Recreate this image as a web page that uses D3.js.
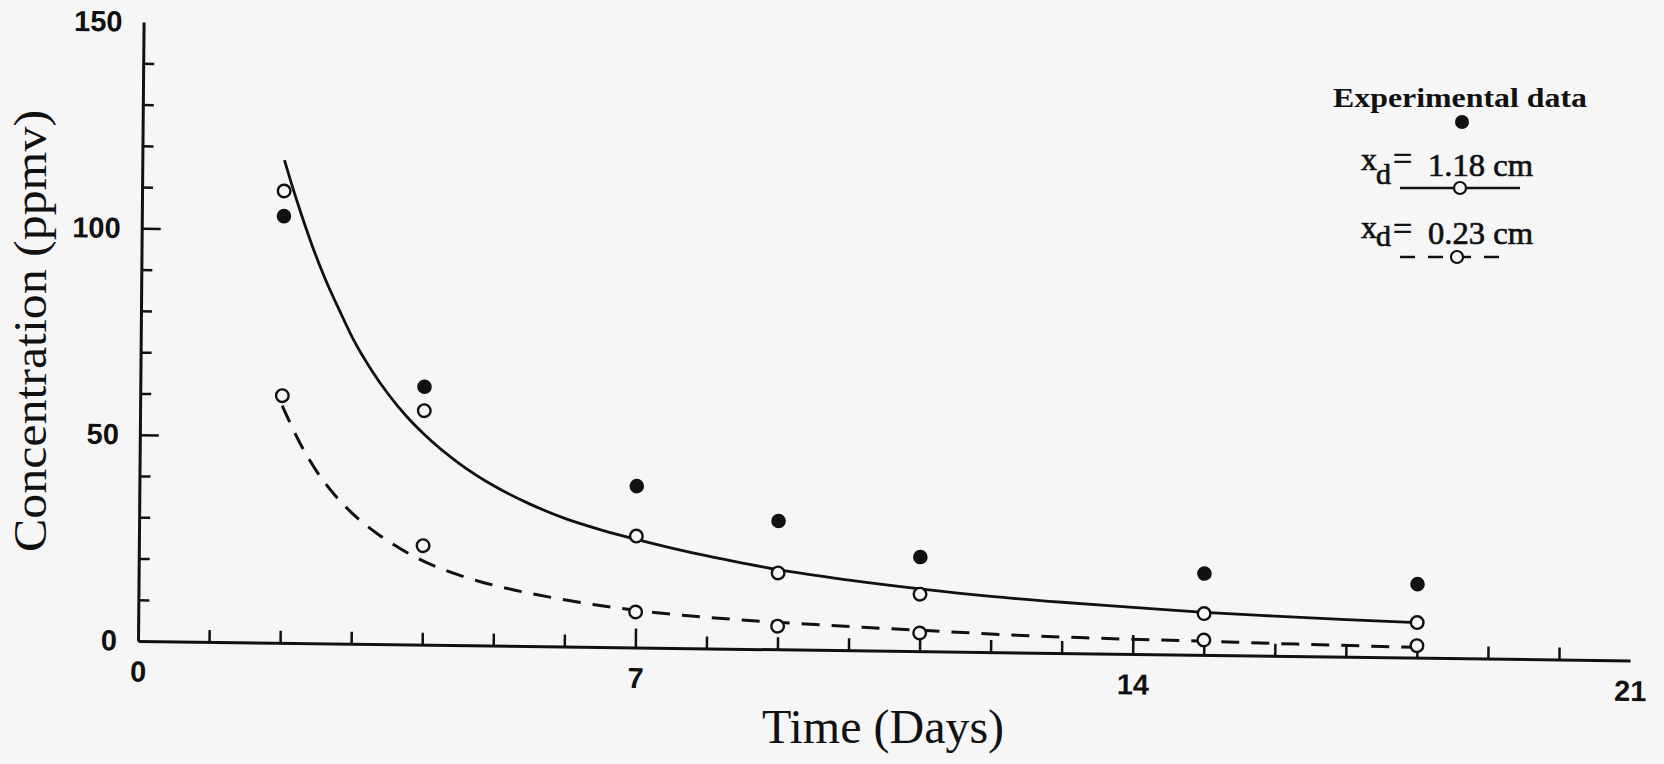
<!DOCTYPE html>
<html>
<head>
<meta charset="utf-8">
<script src="https://d3js.org/d3.v7.min.js"></script>
<style>
  html, body { margin: 0; padding: 0; background: #f6f6f6; }
  svg { display: block; }
</style>
</head>
<body>
<div id="chart"></div>
<script>
// sampled days and the three point series
const days = [2, 4, 7, 9, 11, 15, 18];
const experimental = [103.4, 62.5, 39.1, 31.1, 22.8, 19.7, 17.8];
const model118 = [109.5, 56.7, 27.0, 18.5, 13.8, 10.0, 8.5];
const model023 = [59.9, 24.0, 8.6, 5.6, 4.4, 3.6, 2.9];

// model curves
const curve118Days = [2.0, 2.1, 2.25, 2.4, 2.5, 2.6, 2.8, 3.0, 3.25, 3.5, 3.75, 4.0, 4.5, 5.0, 5.5, 6.0, 6.5, 7.0, 7.5, 8.0, 8.5, 9.0, 10.0, 11.0, 12.0, 13.0, 14.0, 15.0, 16.0, 17.0, 18.0];
const curve118 = [117, 111.4, 103.6, 96.4, 92, 87.9, 80.5, 73.5, 66.4, 60.4, 55.3, 51.0, 44.0, 38.6, 34.4, 31.0, 28.4, 26.2, 24.2, 22.4, 20.8, 19.3, 17.0, 15.1, 13.5, 12.3, 11.3, 10.3, 9.6, 9.0, 8.5];
const curve023Days = [2.0, 2.1, 2.25, 2.5, 2.75, 3.0, 3.35, 3.7, 4.0, 4.4, 4.8, 5.3, 5.9, 6.4, 7.0, 7.7, 8.5, 9.3, 10.2, 11.4, 12.3, 13.5, 15.0, 16.3, 17.5, 18.0];
const curve023 = [57.5, 53.8, 48.6, 41.5, 36, 31.6, 26.8, 23.0, 20.3, 17.6, 15.5, 13.5, 11.6, 10.3, 9.0, 7.9, 7.0, 6.3, 5.6, 4.8, 4.2, 3.7, 3.3, 2.9, 2.6, 2.5];

const xTicks = [0, 7, 14, 21];
const xMajorTicks = [7, 14];
const xMinorTicks = [1, 2, 3, 4, 5, 6, 8, 9, 10, 11, 12, 13, 15, 16, 17, 18, 19, 20];
const yTicks = [0, 50, 100, 150];
const yMajorTicks = [50, 100];
const yMinorTicks = [10, 20, 30, 40, 60, 70, 80, 90, 110, 120, 130, 140];

const legendSeries = ["1.18 cm", "0.23 cm"];

const width = 1664, height = 764;
const ink = "#111";
const paper = "#f6f6f6";
const serif = "'Liberation Serif', 'Times New Roman', serif";
const sans = "'Liberation Sans', Arial, sans-serif";

const svg = d3.select("#chart").append("svg")
    .attr("width", width)
    .attr("height", height);

// the scanned figure is slightly skewed, so the plot sits in a sheared group
const plot = svg.append("g")
    .attr("transform", "translate(138,641) matrix(1,0.013,-0.009,1,0,0)");

const x = d3.scaleLinear().domain([0, 21]).range([0, 1492]);
const y = d3.scaleLinear().domain([0, 150]).range([0, -619]);

function styleAxis(g) {
    g.selectAll("path.domain").attr("stroke", ink).attr("stroke-width", 3);
    g.selectAll(".tick line").attr("stroke", ink).attr("stroke-width", 2.5);
    g.selectAll(".tick text")
        .attr("fill", ink)
        .style("font-family", sans)
        .style("font-weight", "bold")
        .style("font-size", "29px");
}

// x axis: labels + domain
plot.append("g")
    .call(d3.axisBottom(x).tickValues(xTicks).tickSize(0).tickSizeOuter(0).tickPadding(20).tickFormat(d3.format("d")))
    .call(styleAxis);
plot.append("g")
    .call(d3.axisBottom(x).tickValues(xMinorTicks).tickSize(-12).tickFormat(""))
    .call(g => g.select(".domain").remove())
    .call(styleAxis);
plot.append("g")
    .call(d3.axisBottom(x).tickValues(xMajorTicks).tickSize(-19).tickFormat(""))
    .call(g => g.select(".domain").remove())
    .call(styleAxis);

// y axis
plot.append("g")
    .call(d3.axisLeft(y).tickValues(yTicks).tickSize(0).tickSizeOuter(0).tickPadding(21).tickFormat(d3.format("d")))
    .call(styleAxis);
plot.append("g")
    .call(d3.axisLeft(y).tickValues(yMinorTicks).tickSize(-11).tickFormat(""))
    .call(g => g.select(".domain").remove())
    .call(styleAxis);
plot.append("g")
    .call(d3.axisLeft(y).tickValues(yMajorTicks).tickSize(-19).tickFormat(""))
    .call(g => g.select(".domain").remove())
    .call(styleAxis);

// model curves
const line = d3.line()
    .x(d => x(d[0]))
    .y(d => y(d[1]))
    .curve(d3.curveMonotoneX);

plot.append("path")
    .datum(d3.zip(curve118Days, curve118))
    .attr("d", line)
    .attr("fill", "none")
    .attr("stroke", ink)
    .attr("stroke-width", 2.8);

plot.append("path")
    .datum(d3.zip(curve023Days, curve023))
    .attr("d", line)
    .attr("fill", "none")
    .attr("stroke", ink)
    .attr("stroke-width", 3)
    .attr("stroke-dasharray", "18,12");

// points
plot.selectAll(".exp")
    .data(d3.zip(days, experimental))
    .join("circle")
    .attr("class", "exp")
    .attr("cx", d => x(d[0]))
    .attr("cy", d => y(d[1]))
    .attr("r", 7.3)
    .attr("fill", ink);

[model118, model023].forEach((series, k) => {
    plot.selectAll(".open" + k)
        .data(d3.zip(days, series))
        .join("circle")
        .attr("class", "open" + k)
        .attr("cx", d => x(d[0]))
        .attr("cy", d => y(d[1]))
        .attr("r", 6.3)
        .attr("fill", paper)
        .attr("stroke", ink)
        .attr("stroke-width", 2.4);
});

// axis titles
svg.append("text")
    .attr("transform", "translate(46,331) rotate(-90)")
    .attr("text-anchor", "middle")
    .attr("textLength", 442)
    .attr("lengthAdjust", "spacingAndGlyphs")
    .style("font-family", serif)
    .style("font-size", "46px")
    .attr("fill", ink)
    .text("Concentration (ppmv)");

svg.append("text")
    .attr("x", 883)
    .attr("y", 743)
    .attr("text-anchor", "middle")
    .style("font-family", serif)
    .style("font-size", "48px")
    .attr("fill", ink)
    .text("Time (Days)");

// legend
const legend = svg.append("g").attr("fill", ink).style("font-family", serif);

legend.append("text")
    .attr("x", 1333)
    .attr("y", 107)
    .attr("textLength", 254)
    .attr("lengthAdjust", "spacingAndGlyphs")
    .style("font-size", "28px")
    .style("font-weight", "bold")
    .text("Experimental data");

legend.append("circle")
    .attr("cx", 1462)
    .attr("cy", 122)
    .attr("r", 7)
    .attr("fill", ink);

const rows = [
    { xBase: 170, dBase: 184, eqBase: 170, valBase: 176, lineY: 188, dash: null },
    { xBase: 238, dBase: 246, eqBase: 240, valBase: 244, lineY: 257, dash: "15,13" }
];

legendSeries.forEach((label, i) => {
    const r = rows[i];
    const row = legend.append("g")
        .attr("stroke", ink)
        .attr("stroke-width", 0.7);
    row.append("text").attr("x", 1361).attr("y", r.xBase)
        .style("font-size", "32px").text("x");
    row.append("text").attr("x", 1376).attr("y", r.dBase)
        .style("font-size", "30px").text("d");
    row.append("text").attr("x", 1393).attr("y", r.eqBase)
        .style("font-size", "34px").text("=");
    row.append("text").attr("x", 1428).attr("y", r.valBase)
        .attr("textLength", 105)
        .attr("lengthAdjust", "spacingAndGlyphs")
        .style("font-size", "32px").text(label);
    legend.append("line")
        .attr("x1", 1400).attr("x2", i === 0 ? 1520 : 1512)
        .attr("y1", r.lineY).attr("y2", r.lineY)
        .attr("stroke", ink)
        .attr("stroke-width", 2.4)
        .attr("stroke-dasharray", r.dash);
    legend.append("circle")
        .attr("cx", i === 0 ? 1460 : 1457)
        .attr("cy", r.lineY)
        .attr("r", 6)
        .attr("fill", paper)
        .attr("stroke", ink)
        .attr("stroke-width", 2.2);
});
</script>
</body>
</html>
